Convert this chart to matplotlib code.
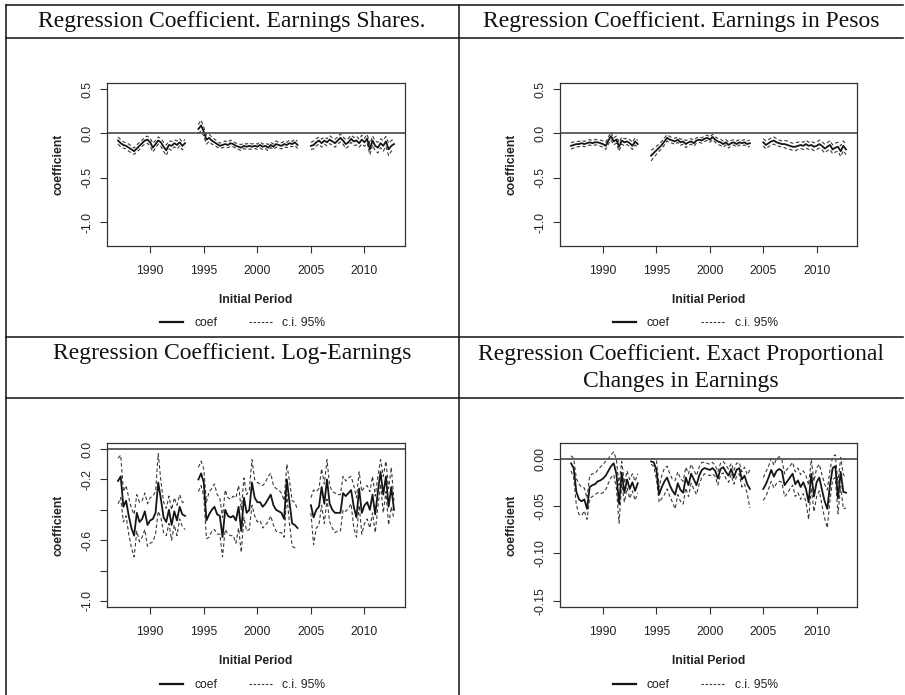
import numpy as np
import matplotlib

matplotlib.use("Agg")
import matplotlib.pyplot as plt
from matplotlib.lines import Line2D

nan = np.nan

# quarterly initial periods, 1987Q1 .. 2012Q4 (NaN marks quarters with no estimate)
PERIOD = np.arange(1987.0, 2013.0, 0.25)
GAP = [nan] * 4

SHARES_COEF = (
    [-0.08, -0.11, -0.13, -0.14, -0.16, -0.18, -0.20, -0.17, -0.14, -0.11, -0.08, -0.07, -0.10,
     -0.16, -0.12, -0.08, -0.10, -0.15, -0.19, -0.13, -0.14, -0.11, -0.13, -0.10, -0.14, -0.11]
    + GAP
    + [0.05, 0.09, 0.02, -0.07, -0.05, -0.08, -0.10, -0.12, -0.14, -0.13, -0.12, -0.13, -0.11,
       -0.12, -0.14, -0.15, -0.16, -0.14, -0.15, -0.14, -0.15, -0.14, -0.15, -0.13, -0.15, -0.14,
       -0.16, -0.13, -0.15, -0.12, -0.13, -0.14, -0.12, -0.13, -0.11, -0.12, -0.10, -0.13]
    + GAP
    + [-0.14, -0.13, -0.10, -0.08, -0.11, -0.08, -0.10, -0.07, -0.09, -0.11, -0.08, -0.05, -0.08,
       -0.12, -0.10, -0.06, -0.09, -0.08, -0.11, -0.07, -0.10, -0.06, -0.18, -0.08, -0.14, -0.16,
       -0.11, -0.14, -0.09, -0.18, -0.14, -0.12]
)
SHARES_HALF = (
    [0.04, 0.04, 0.035, 0.035, 0.04, 0.04, 0.035, 0.04, 0.04, 0.035, 0.04, 0.04, 0.045,
     0.05, 0.04, 0.04, 0.045, 0.05, 0.06, 0.045, 0.05, 0.04, 0.045, 0.04, 0.045, 0.04]
    + GAP
    + [0.05, 0.06, 0.05, 0.05, 0.04, 0.04, 0.035, 0.035, 0.03, 0.03, 0.035, 0.03, 0.035,
       0.03, 0.03, 0.03, 0.035, 0.03, 0.03, 0.035, 0.03, 0.03, 0.03, 0.035, 0.03, 0.03,
       0.035, 0.03, 0.03, 0.035, 0.03, 0.035, 0.03, 0.03, 0.035, 0.03, 0.035, 0.04]
    + GAP
    + [0.04, 0.045, 0.04, 0.04, 0.045, 0.04, 0.04, 0.045, 0.04, 0.045, 0.04, 0.045, 0.04,
       0.05, 0.045, 0.04, 0.045, 0.05, 0.045, 0.05, 0.045, 0.05, 0.06, 0.05, 0.055, 0.06,
       0.05, 0.06, 0.055, 0.07, 0.06, 0.06]
)

PESOS_COEF = (
    [-0.14, -0.13, -0.12, -0.12, -0.11, -0.12, -0.11, -0.10, -0.11, -0.10, -0.10, -0.11, -0.12,
     -0.14, -0.08, -0.03, -0.09, -0.07, -0.15, -0.08, -0.10, -0.09, -0.11, -0.14, -0.09, -0.12]
    + GAP
    + [-0.25, -0.22, -0.19, -0.16, -0.13, -0.09, -0.05, -0.07, -0.08, -0.09, -0.07, -0.10, -0.09,
       -0.12, -0.10, -0.09, -0.11, -0.08, -0.07, -0.08, -0.06, -0.05, -0.07, -0.04, -0.07, -0.09,
       -0.10, -0.12, -0.10, -0.13, -0.11, -0.10, -0.12, -0.10, -0.11, -0.10, -0.12, -0.11]
    + GAP
    + [-0.10, -0.13, -0.11, -0.09, -0.08, -0.10, -0.11, -0.12, -0.12, -0.13, -0.14, -0.15, -0.15,
       -0.14, -0.13, -0.14, -0.12, -0.14, -0.13, -0.15, -0.14, -0.12, -0.14, -0.17, -0.15, -0.13,
       -0.18, -0.16, -0.15, -0.20, -0.14, -0.18]
)
PESOS_HALF = (
    [0.035, 0.035, 0.03, 0.03, 0.03, 0.03, 0.03, 0.03, 0.03, 0.03, 0.03, 0.035, 0.035,
     0.04, 0.04, 0.045, 0.04, 0.04, 0.05, 0.04, 0.04, 0.035, 0.04, 0.04, 0.04, 0.04]
    + GAP
    + [0.06, 0.05, 0.045, 0.04, 0.04, 0.04, 0.035, 0.035, 0.03, 0.035, 0.03, 0.035, 0.03,
       0.04, 0.035, 0.03, 0.035, 0.03, 0.03, 0.03, 0.03, 0.03, 0.03, 0.03, 0.03, 0.035,
       0.035, 0.035, 0.03, 0.035, 0.03, 0.03, 0.035, 0.03, 0.03, 0.03, 0.035, 0.035]
    + GAP
    + [0.04, 0.045, 0.04, 0.04, 0.04, 0.04, 0.035, 0.035, 0.04, 0.045, 0.04, 0.04, 0.045,
       0.04, 0.04, 0.04, 0.045, 0.04, 0.04, 0.045, 0.04, 0.045, 0.045, 0.05, 0.045, 0.05,
       0.05, 0.05, 0.05, 0.06, 0.055, 0.06]
)

LOG_COEF = (
    [-0.21, -0.18, -0.38, -0.34, -0.44, -0.52, -0.57, -0.42, -0.48, -0.46, -0.41, -0.50, -0.47,
     -0.46, -0.42, -0.22, -0.33, -0.45, -0.48, -0.40, -0.50, -0.41, -0.47, -0.38, -0.43, -0.44]
    + GAP
    + [-0.20, -0.16, -0.22, -0.47, -0.43, -0.40, -0.38, -0.43, -0.44, -0.58, -0.40, -0.44, -0.45,
       -0.44, -0.47, -0.38, -0.54, -0.32, -0.42, -0.40, -0.22, -0.32, -0.35, -0.35, -0.38, -0.36,
       -0.33, -0.30, -0.37, -0.40, -0.41, -0.42, -0.46, -0.20, -0.35, -0.49, -0.50, -0.52]
    + GAP
    + [-0.37, -0.45, -0.40, -0.38, -0.25, -0.36, -0.20, -0.36, -0.40, -0.42, -0.42, -0.42, -0.29,
       -0.31, -0.29, -0.27, -0.38, -0.45, -0.26, -0.42, -0.37, -0.35, -0.40, -0.30, -0.43, -0.28,
       -0.15, -0.30, -0.18, -0.38, -0.25, -0.40]
)
LOG_HALF = (
    [0.15, 0.14, 0.10, 0.10, 0.12, 0.13, 0.14, 0.12, 0.13, 0.12, 0.12, 0.14, 0.15,
     0.15, 0.14, 0.19, 0.12, 0.10, 0.09, 0.09, 0.10, 0.09, 0.10, 0.08, 0.08, 0.09]
    + GAP
    + [0.08, 0.08, 0.09, 0.12, 0.15, 0.14, 0.15, 0.13, 0.12, 0.13, 0.13, 0.12, 0.12,
       0.13, 0.15, 0.14, 0.14, 0.13, 0.12, 0.13, 0.15, 0.12, 0.13, 0.12, 0.14, 0.14,
       0.15, 0.14, 0.13, 0.14, 0.14, 0.13, 0.12, 0.10, 0.14, 0.15, 0.15, 0.12]
    + GAP
    + [0.05, 0.18, 0.12, 0.12, 0.12, 0.13, 0.13, 0.12, 0.12, 0.13, 0.12, 0.12, 0.11,
       0.10, 0.10, 0.09, 0.14, 0.13, 0.11, 0.14, 0.12, 0.11, 0.12, 0.12, 0.12, 0.10,
       0.08, 0.12, 0.10, 0.12, 0.13, 0.06]
)

EXACT_COEF = (
    [-0.005, -0.010, -0.035, -0.043, -0.045, -0.043, -0.053, -0.030, -0.028, -0.027, -0.024,
     -0.023, -0.021, -0.018, -0.013, -0.008, -0.005, -0.016, -0.048, -0.015, -0.036, -0.022,
     -0.032, -0.025, -0.034, -0.026]
    + GAP
    + [-0.003, -0.004, -0.012, -0.038, -0.030, -0.024, -0.020, -0.028, -0.034, -0.038, -0.026,
       -0.033, -0.036, -0.020, -0.028, -0.016, -0.022, -0.028, -0.018, -0.012, -0.010, -0.011,
       -0.012, -0.010, -0.013, -0.021, -0.011, -0.009, -0.014, -0.018, -0.011, -0.020, -0.012,
       -0.010, -0.022, -0.018, -0.027, -0.032]
    + GAP
    + [-0.032, -0.027, -0.020, -0.012, -0.019, -0.013, -0.011, -0.013, -0.028, -0.024, -0.020,
       -0.016, -0.027, -0.023, -0.030, -0.025, -0.032, -0.046, -0.016, -0.040, -0.025, -0.020,
       -0.033, -0.045, -0.053, -0.028, -0.010, -0.008, -0.042, -0.014, -0.035, -0.036]
)
EXACT_HALF = (
    [0.008, 0.010, 0.014, 0.016, 0.015, 0.012, 0.011, 0.012, 0.012, 0.011, 0.012, 0.014, 0.015,
     0.015, 0.013, 0.012, 0.012, 0.015, 0.020, 0.012, 0.010, 0.009, 0.010, 0.009, 0.010, 0.010]
    + GAP
    + [0.003, 0.004, 0.010, 0.008, 0.012, 0.014, 0.012, 0.012, 0.012, 0.015, 0.012, 0.012, 0.012,
       0.011, 0.012, 0.010, 0.010, 0.010, 0.009, 0.008, 0.006, 0.006, 0.006, 0.006, 0.006, 0.007,
       0.006, 0.006, 0.007, 0.007, 0.006, 0.007, 0.007, 0.006, 0.008, 0.009, 0.010, 0.020]
    + GAP
    + [0.012, 0.013, 0.012, 0.012, 0.012, 0.013, 0.013, 0.012, 0.012, 0.013, 0.012, 0.012, 0.013,
       0.013, 0.013, 0.012, 0.014, 0.018, 0.015, 0.016, 0.015, 0.014, 0.016, 0.018, 0.020, 0.016,
       0.012, 0.012, 0.016, 0.015, 0.018, 0.016]
)

TITLES = [
    "Regression Coefficient. Earnings Shares.",
    "Regression Coefficient. Earnings in Pesos",
    "Regression Coefficient. Log-Earnings",
    "Regression Coefficient. Exact Proportional\nChanges in Earnings",
]
YLIMS = [(-1.2, 0.5), (-1.2, 0.5), (-1.0, 0.0), (-0.15, 0.01)]
YTICKS = [
    [-1.0, -0.5, 0.0, 0.5],
    [-1.0, -0.5, 0.0, 0.5],
    [-1.0, -0.8, -0.6, -0.4, -0.2, 0.0],
    [-0.15, -0.10, -0.05, 0.00],
]
YTICKLABELS = [
    ["-1.0", "-0.5", "0.0", "0.5"],
    ["-1.0", "-0.5", "0.0", "0.5"],
    ["-1.0", "", "-0.6", "", "-0.2", "0.0"],
    ["-0.15", "-0.10", "-0.05", "0.00"],
]
XTICKS = [1990, 1995, 2000, 2005, 2010]

W, H = 905, 695
SANS = "Liberation Sans"
SERIF = "Liberation Serif"
FS = 8.7


def fx(x):
    return x / W


def fy(y):
    return 1 - y / H


def expand(lo, hi, f=0.04):
    d = (hi - lo) * f
    return lo - d, hi + d


def draw_panel(ax, coef, half, ylim, yticks, ylabels):
    coef = np.asarray(coef, dtype=float)
    half = np.asarray(half, dtype=float)
    dash = dict(color="#3a3a3a", lw=0.8, ls=(0, (3.2, 2.2)))
    ax.plot(PERIOD, coef - half, **dash)
    ax.plot(PERIOD, coef + half, **dash)
    ax.plot(PERIOD, coef, color="#151515", lw=1.3)
    ax.axhline(0, color="#555555", lw=1.3)

    ax.set_xlim(*expand(PERIOD[0], PERIOD[-1]))
    ax.set_ylim(*expand(*ylim))
    ax.set_xticks(XTICKS)
    ax.set_xticklabels([str(x) for x in XTICKS])
    ax.set_yticks(yticks)
    ax.set_yticklabels(ylabels, rotation=90, va="center")
    ax.tick_params(axis="both", direction="out", length=5, width=0.8, color="#333333",
                   labelsize=FS, labelcolor="#222222")
    ax.tick_params(axis="x", pad=9)
    ax.tick_params(axis="y", pad=5)
    for lab in ax.get_xticklabels() + ax.get_yticklabels():
        lab.set_family(SANS)
    for sp in ax.spines.values():
        sp.set_color("#333333")
        sp.set_linewidth(0.9)

    ax.set_xlabel("Initial Period", family=SANS, fontsize=FS, fontweight="bold",
                  color="#222222", labelpad=12)
    ax.set_ylabel("coefficient", family=SANS, fontsize=FS, fontweight="bold",
                  color="#222222", labelpad=12)

    handles = [Line2D([], [], color="#151515", lw=1.6),
               Line2D([], [], color="#3a3a3a", lw=0.8, ls=(0, (2.2, 1.5)))]
    leg = ax.legend(handles, ["coef", "c.i. 95%"], ncol=2, loc="center",
                    bbox_to_anchor=(0.456, -0.475), frameon=False,
                    prop={"family": SANS, "size": FS}, handlelength=1.9,
                    handletextpad=0.9, columnspacing=2.6)
    for t in leg.get_texts():
        t.set_color("#222222")


fig = plt.figure(figsize=(W / 100, H / 100), dpi=100)

# table grid
line_kw = dict(color="#111111", lw=1.1, transform=fig.transFigure)
for y in (5, 38, 337, 398):
    fig.add_artist(Line2D([fx(6), fx(903)], [fy(y), fy(y)], **line_kw))
for x in (6, 459):
    fig.add_artist(Line2D([fx(x), fx(x)], [fy(5), fy(H)], **line_kw))

# cell headers
header_kw = dict(family=SERIF, fontsize=17, color="#111111", ha="center")
fig.text(fx(232), fy(21), TITLES[0], va="center", **header_kw)
fig.text(fx(681), fy(21), TITLES[1], va="center", **header_kw)
fig.text(fx(232), fy(353), TITLES[2], va="center", **header_kw)
fig.text(fx(681), fy(368), TITLES[3], va="center", linespacing=1.35, **header_kw)

# plot areas, pixel boxes (left, top, right, bottom)
boxes = [(107, 83, 405, 246), (560, 83, 857, 246), (107, 443, 405, 607), (560, 443, 857, 607)]
series = [(SHARES_COEF, SHARES_HALF), (PESOS_COEF, PESOS_HALF),
          (LOG_COEF, LOG_HALF), (EXACT_COEF, EXACT_HALF)]

for i, ((l, t, r, b), (coef, half)) in enumerate(zip(boxes, series)):
    ax = fig.add_axes([fx(l), fy(b), (r - l) / W, (b - t) / H])
    draw_panel(ax, coef, half, YLIMS[i], YTICKS[i], YTICKLABELS[i])

fig.savefig("out.png", dpi=100)
